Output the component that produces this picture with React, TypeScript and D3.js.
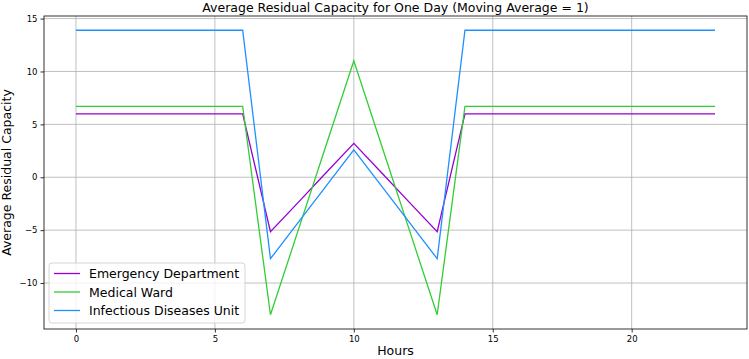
import React, { useEffect, useRef } from "react";
import * as d3 from "d3";

const hours = d3.range(0, 24);
const emergency = [6.0, 6.0, 6.0, 6.0, 6.0, 6.0, 6.0, -5.15, -2.37, 0.42, 3.2, 0.42, -2.37, -5.15, 6.0, 6.0, 6.0, 6.0, 6.0, 6.0, 6.0, 6.0, 6.0, 6.0];
const medical = [6.7, 6.7, 6.7, 6.7, 6.7, 6.7, 6.7, -13.0, -5.0, 3.0, 11.0, 3.0, -5.0, -13.0, 6.7, 6.7, 6.7, 6.7, 6.7, 6.7, 6.7, 6.7, 6.7, 6.7];
const infectious = [13.9, 13.9, 13.9, 13.9, 13.9, 13.9, 13.9, -7.7, -4.27, -0.83, 2.6, -0.83, -4.27, -7.7, 13.9, 13.9, 13.9, 13.9, 13.9, 13.9, 13.9, 13.9, 13.9, 13.9];
const seriesNames = ["Emergency Department", "Medical Ward", "Infectious Diseases Unit"];
const seriesColors = ["#9400d3", "#32cd32", "#1e90ff"];
const xTicks = [0, 5, 10, 15, 20];
const yTicks = [-10, -5, 0, 5, 10, 15];

const W = 749;
const H = 359;

const App: React.FC = () => {
  const svgRef = useRef<SVGSVGElement | null>(null);

  useEffect(() => {
    if (!svgRef.current) return;
    const svg = d3.select(svgRef.current);
    svg.selectAll("*").remove();

    const margin = { top: 16, right: 2, bottom: 30, left: 44 };
    const innerWidth = W - margin.left - margin.right;
    const innerHeight = H - margin.top - margin.bottom;

    const all = [...emergency, ...medical, ...infectious];
    const yMin = d3.min(all) as number;
    const yMax = d3.max(all) as number;
    const yPad = (yMax - yMin) * 0.05;
    const xPad = 23 * 0.05;

    const xScale = d3.scaleLinear().domain([0 - xPad, 23 + xPad]).range([0, innerWidth]);
    const yScale = d3.scaleLinear().domain([yMin - yPad, yMax + yPad]).range([innerHeight, 0]);

    const g = svg.append("g").attr("transform", `translate(${margin.left},${margin.top})`);

    // grid
    g.append("g")
      .selectAll("line")
      .data(xTicks)
      .join("line")
      .attr("x1", (d) => xScale(d))
      .attr("x2", (d) => xScale(d))
      .attr("y1", 0)
      .attr("y2", innerHeight)
      .attr("stroke", "#b0b0b0")
      .attr("stroke-width", 0.8);
    g.append("g")
      .selectAll("line")
      .data(yTicks)
      .join("line")
      .attr("x1", 0)
      .attr("x2", innerWidth)
      .attr("y1", (d) => yScale(d))
      .attr("y2", (d) => yScale(d))
      .attr("stroke", "#b0b0b0")
      .attr("stroke-width", 0.8);

    // lines
    const line = d3
      .line<number>()
      .x((_, i) => xScale(hours[i]))
      .y((d) => yScale(d));
    [emergency, medical, infectious].forEach((s, i) => {
      g.append("path")
        .datum(s)
        .attr("fill", "none")
        .attr("stroke", seriesColors[i])
        .attr("stroke-width", 1.3)
        .attr("d", line);
    });

    // spines
    g.append("rect")
      .attr("width", innerWidth)
      .attr("height", innerHeight)
      .attr("fill", "none")
      .attr("stroke", "#000")
      .attr("stroke-width", 0.8);

    // axes
    const xAxis = d3.axisBottom(xScale).tickValues(xTicks).tickSize(3.5).tickPadding(3).tickFormat(d3.format("d"));
    const xg = g.append("g").attr("transform", `translate(0,${innerHeight})`).call(xAxis);
    const yAxis = d3
      .axisLeft(yScale)
      .tickValues(yTicks)
      .tickSize(3.5)
      .tickPadding(3)
      .tickFormat((d) => String(d).replace("-", "\u2212"));
    const yg = g.append("g").call(yAxis);
    [xg, yg].forEach((a) => {
      a.select(".domain").remove();
      a.selectAll("line").attr("stroke", "#000").attr("stroke-width", 0.8);
      a.selectAll("text").attr("fill", "#000").attr("font-size", 8.5).attr("font-family", "DejaVu Sans");
    });

    // title and labels
    svg.append("text")
      .attr("x", margin.left + innerWidth / 2)
      .attr("y", 12)
      .attr("text-anchor", "middle")
      .attr("font-family", "DejaVu Sans")
      .attr("font-size", 12.5)
      .text("Average Residual Capacity for One Day (Moving Average = 1)");
    svg.append("text")
      .attr("x", margin.left + innerWidth / 2)
      .attr("y", 355)
      .attr("text-anchor", "middle")
      .attr("font-family", "DejaVu Sans")
      .attr("font-size", 12.5)
      .text("Hours");
    svg.append("text")
      .attr("transform", `translate(11,${margin.top + innerHeight / 2}) rotate(-90)`)
      .attr("text-anchor", "middle")
      .attr("font-family", "DejaVu Sans")
      .attr("font-size", 12.5)
      .text("Average Residual Capacity");

    // legend
    const lg = g.append("g").attr("transform", "translate(5,247)");
    lg.append("rect")
      .attr("width", 196)
      .attr("height", 60)
      .attr("rx", 3)
      .attr("fill", "#fff")
      .attr("fill-opacity", 0.8)
      .attr("stroke", "#ccc")
      .attr("stroke-width", 0.8);
    seriesNames.forEach((name, i) => {
      const yy = 10.5 + i * 18.5;
      lg.append("line")
        .attr("x1", 5)
        .attr("x2", 31)
        .attr("y1", yy)
        .attr("y2", yy)
        .attr("stroke", seriesColors[i])
        .attr("stroke-width", 1.3);
      lg.append("text")
        .attr("x", 40)
        .attr("y", yy + 4.5)
        .attr("font-family", "DejaVu Sans")
        .attr("font-size", 12.5)
        .text(name);
    });
  }, []);

  return (
    <div style={{ position: "absolute", left: 0, top: 0 }}>
      <svg ref={svgRef} width={W} height={H}></svg>
    </div>
  );
};

export default App;
